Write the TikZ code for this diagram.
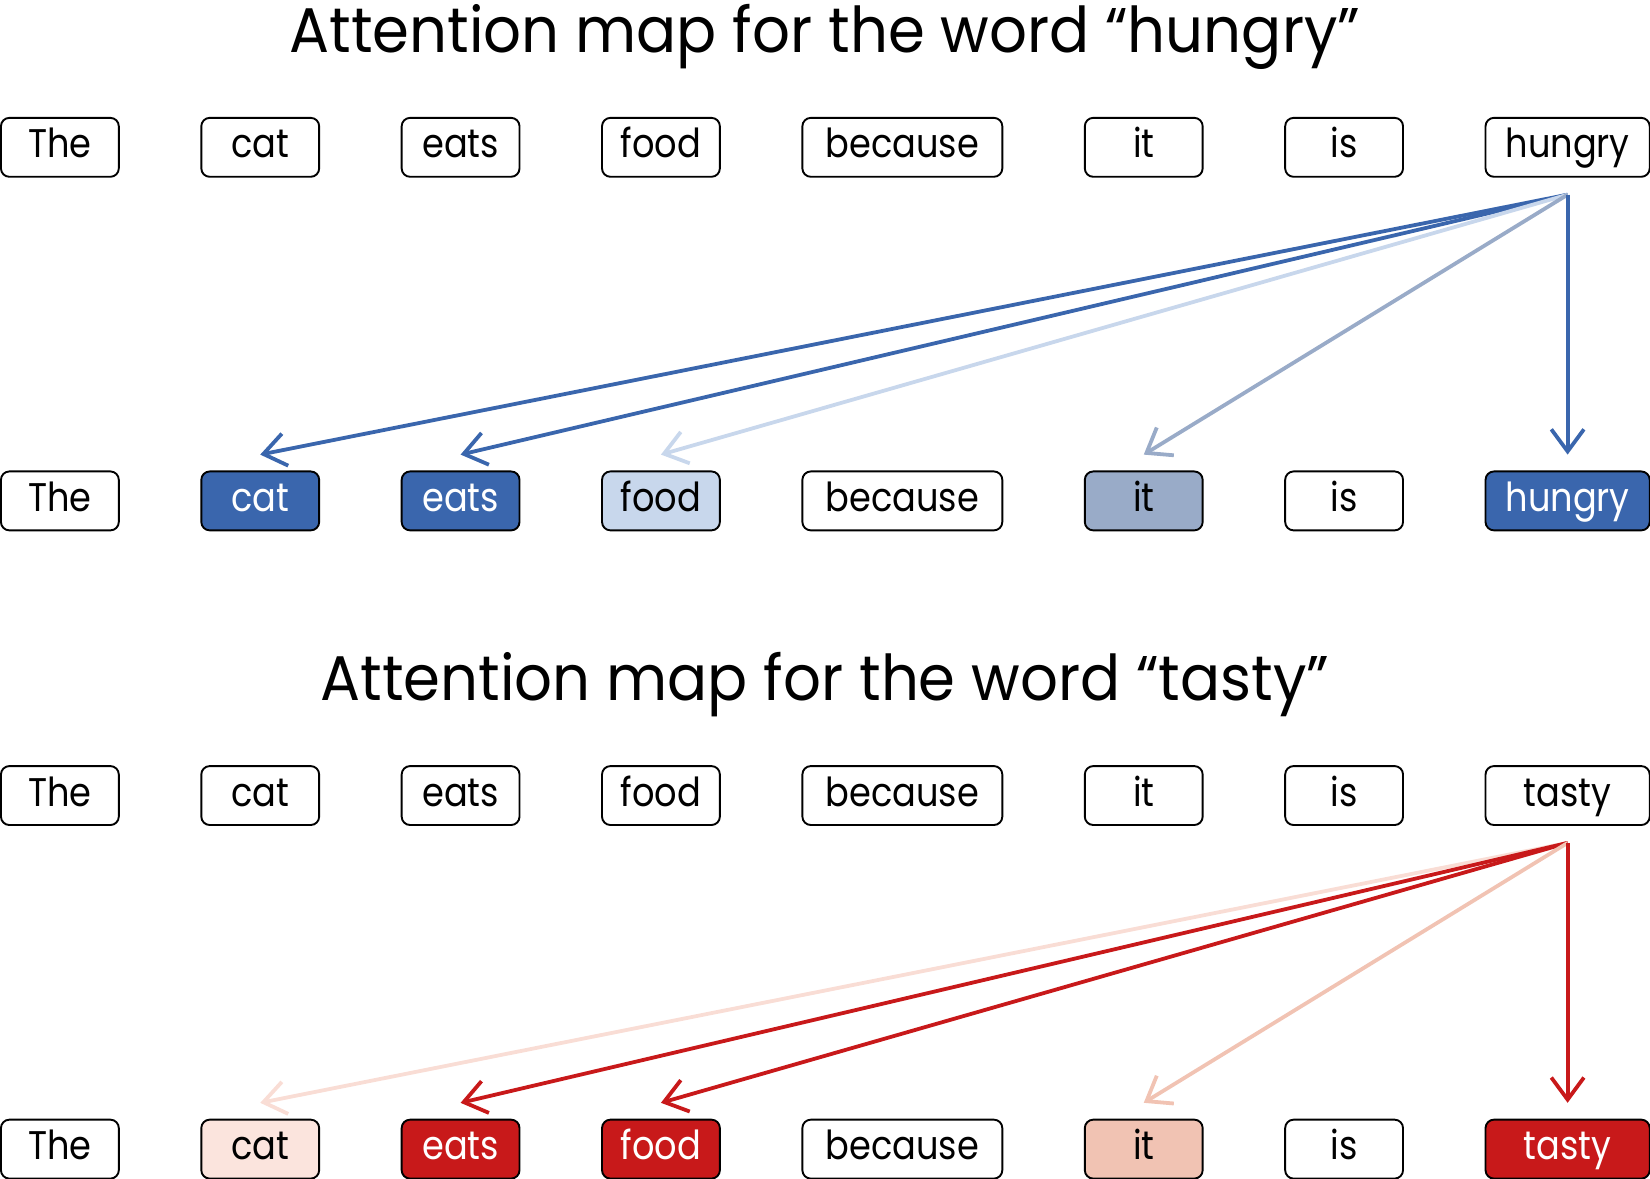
\documentclass[tikz,border=0pt]{standalone}
\usepackage{fontspec}
\setmainfont{Poppins}
\newfontfamily\titlefont{Poppins}[FakeStretch=0.94]
\newfontfamily\wordfont{Poppins}[FakeStretch=0.88]
\usepackage{xcolor}
\usepackage{tikz}
\usetikzlibrary{arrows.meta,positioning}

\definecolor{bluestrong}{HTML}{3A66AD}
\definecolor{bluelight}{HTML}{C8D7EC}
\definecolor{bluegrey}{HTML}{99ABC8}
\definecolor{redstrong}{HTML}{C8191A}
\definecolor{redlight}{HTML}{F1C3B3}
\definecolor{redpale}{HTML}{FBE4DD}

\begin{document}
\begin{tikzpicture}[
    x=1pt, y=-1pt,
    node distance=78.4pt,
    title/.style={anchor=base, font=\titlefont\fontsize{60}{60}\selectfont},
    word/.style={draw, line width=1.8pt, rounded corners=8pt, inner xsep=0pt, inner ysep=0pt, outer sep=0pt,
        minimum width=112pt, text height=38pt, text depth=18pt,
        font=\wordfont\fontsize{38}{38}\selectfont},
    wide/.style={minimum width=190pt},
    last/.style={minimum width=156pt},
    hot/.style={text=white},
    attn/.style={line width=3.6pt, -{Straight Barb[length=21pt, width=31pt, line width=3.6pt]}}
]
\useasboundingbox (0,0) rectangle (1568,1120);

% Title for "hungry"
\node[title] (t1) at (784,50) {Attention map for the word “hungry”};

% Query row (hungry)
\node[word, anchor=north west] (qa1) at (0.9,112) {The};
\node[word, right=of qa1] (qa2) {cat};
\node[word, right=of qa2] (qa3) {eats};
\node[word, right=of qa3] (qa4) {food};
\node[word, wide, right=of qa4] (qa5) {because};
\node[word, right=of qa5] (qa6) {it};
\node[word, right=of qa6] (qa7) {is};
\node[word, last, right=of qa7] (qa8) {hungry};

% Key row (hungry)
\node[word, anchor=north west] (ka1) at (0.9,448) {The};
\node[word, hot, fill=bluestrong, right=of ka1] (ka2) {cat};
\node[word, hot, fill=bluestrong, right=of ka2] (ka3) {eats};
\node[word, fill=bluelight, right=of ka3] (ka4) {food};
\node[word, wide, right=of ka4] (ka5) {because};
\node[word, fill=bluegrey, right=of ka5] (ka6) {it};
\node[word, right=of ka6] (ka7) {is};
\node[word, last, hot, fill=bluestrong, right=of ka7] (ka8) {hungry};

% Attention arrows (hungry)
\coordinate (sa) at ([yshift=-17pt]qa8.south);
\draw[attn, bluestrong] (sa) -- ([yshift=16pt]ka2.north);
\draw[attn, bluestrong] (sa) -- ([yshift=16pt]ka3.north);
\draw[attn, bluelight] (sa) -- ([yshift=16pt]ka4.north);
\draw[attn, bluegrey] (sa) -- ([yshift=16pt]ka6.north);
\draw[attn, bluestrong] (sa) -- ([yshift=16pt]ka8.north);

% Title for "tasty"
\node[title] (t2) at (784,666) {Attention map for the word “tasty”};

% Query row (tasty)
\node[word, anchor=north west] (qb1) at (0.9,728) {The};
\node[word, right=of qb1] (qb2) {cat};
\node[word, right=of qb2] (qb3) {eats};
\node[word, right=of qb3] (qb4) {food};
\node[word, wide, right=of qb4] (qb5) {because};
\node[word, right=of qb5] (qb6) {it};
\node[word, right=of qb6] (qb7) {is};
\node[word, last, right=of qb7] (qb8) {tasty};

% Key row (tasty)
\node[word, anchor=north west] (kb1) at (0.9,1064) {The};
\node[word, fill=redpale, right=of kb1] (kb2) {cat};
\node[word, hot, fill=redstrong, right=of kb2] (kb3) {eats};
\node[word, hot, fill=redstrong, right=of kb3] (kb4) {food};
\node[word, wide, right=of kb4] (kb5) {because};
\node[word, fill=redlight, right=of kb5] (kb6) {it};
\node[word, right=of kb6] (kb7) {is};
\node[word, last, hot, fill=redstrong, right=of kb7] (kb8) {tasty};

% Attention arrows (tasty)
\coordinate (sb) at ([yshift=-17pt]qb8.south);
\draw[attn, redpale!80!redlight] (sb) -- ([yshift=16pt]kb2.north);
\draw[attn, redstrong] (sb) -- ([yshift=16pt]kb3.north);
\draw[attn, redstrong] (sb) -- ([yshift=16pt]kb4.north);
\draw[attn, redlight] (sb) -- ([yshift=16pt]kb6.north);
\draw[attn, redstrong] (sb) -- ([yshift=16pt]kb8.north);

\end{tikzpicture}
\end{document}
